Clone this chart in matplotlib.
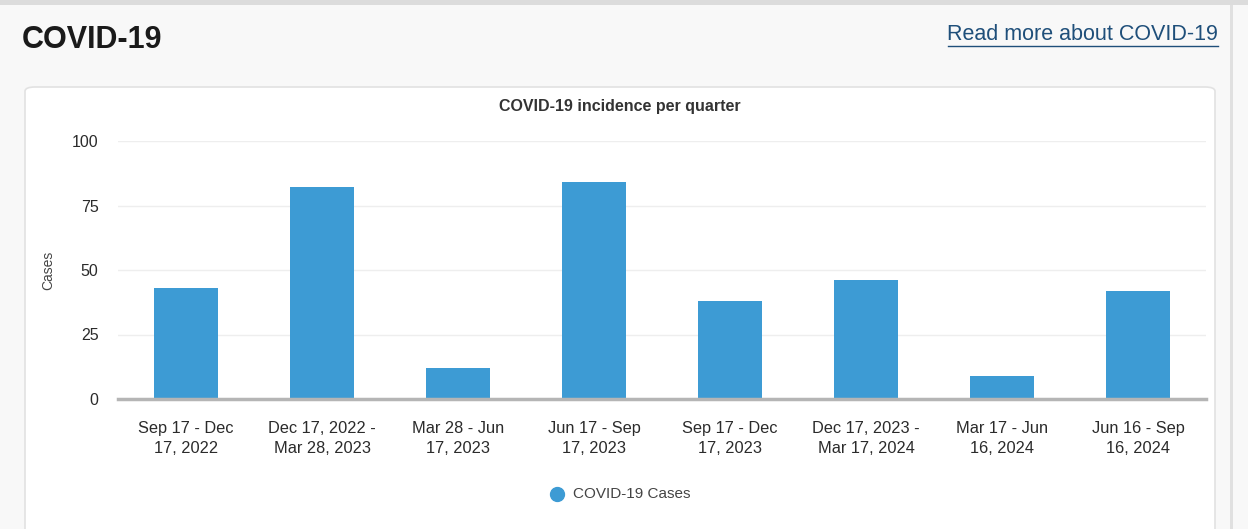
import matplotlib.pyplot as plt
from matplotlib.patches import FancyBboxPatch, Rectangle
from matplotlib.lines import Line2D

plt.rcParams['font.family'] = ['Liberation Sans', 'DejaVu Sans']

# data
quarters = ['Sep 17 - Dec\n17, 2022', 'Dec 17, 2022 -\nMar 28, 2023', 'Mar 28 - Jun\n17, 2023',
            'Jun 17 - Sep\n17, 2023', 'Sep 17 - Dec\n17, 2023', 'Dec 17, 2023 -\nMar 17, 2024',
            'Mar 17 - Jun\n16, 2024', 'Jun 16 - Sep\n16, 2024']
cases = [43, 82, 12, 84, 38, 46, 9, 42]
y_ticks = [0, 25, 50, 75, 100]

W, H = 1248, 529
fig = plt.figure(figsize=(W / 100, H / 100), dpi=100)
fig.patch.set_facecolor('#f8f8f8')

# page chrome: top shadow, card, scrollbar
fig.patches.append(Rectangle((0, 1 - 5 / H), 1, 5 / H, transform=fig.transFigure,
                             facecolor='#dcdcdc', edgecolor='none', zorder=-2))
fig.patches.append(FancyBboxPatch((25 / W, -0.05), 1190 / W, (529 - 87) / H + 0.05,
                                  boxstyle='round,pad=0,rounding_size=0.008',
                                  transform=fig.transFigure, facecolor='white',
                                  edgecolor='#e2e2e2', linewidth=1.2, zorder=-2))
fig.patches.append(Rectangle((1230 / W, 0), 3 / W, 1 - 5 / H, transform=fig.transFigure,
                             facecolor='#e0e0e0', edgecolor='none', zorder=-2))

fig.text(22 / W, 1 - 40 / H, 'COVID-19', fontsize=22, fontweight='bold',
         color='#1a1a1a', va='center', ha='left')
fig.text(1218 / W, 1 - 35 / H, 'Read more about COVID-19', fontsize=15.5,
         color='#1f4f7a', va='center', ha='right')
fig.lines.append(Line2D([948 / W, 1218 / W], [1 - 46 / H, 1 - 46 / H],
                        transform=fig.transFigure, color='#1f4f7a', linewidth=1))

fig.text(620 / W, 1 - 107 / H, 'COVID-19 incidence per quarter', fontsize=11.5,
         fontweight='bold', color='#333333', ha='center', va='center')

ax = fig.add_axes([118 / W, 1 - 399 / H, 1088 / W, 258 / H])
ax.set_zorder(1)
ax.set_facecolor('none')
x = range(len(quarters))
ax.bar(x, cases, width=0.47, color='#3d9bd4', zorder=2)
ax.set_xlim(-0.5, len(quarters) - 0.5)
ax.set_ylim(0, 100)
ax.set_yticks(y_ticks)
ax.set_xticks(list(x))
ax.set_xticklabels(quarters, fontsize=11.8, color='#2b2b2b', linespacing=1.4)
ax.tick_params(axis='y', labelsize=11.5, labelcolor='#2b2b2b', length=0, pad=14)
ax.tick_params(axis='x', length=0, pad=16)
ax.grid(axis='y', color='#eeeeee', linewidth=1, zorder=0)
for s in ['top', 'right', 'left']:
    ax.spines[s].set_visible(False)
ax.spines['bottom'].set_color('#b5b5b5')
ax.spines['bottom'].set_linewidth(2.5)
ax.spines['bottom'].set_zorder(3)
ax.set_ylabel('Cases', fontsize=10, color='#444444', labelpad=12)

# legend
fig.lines.append(Line2D([557 / W], [1 - 494 / H], marker='o', markersize=10,
                        color='#3d9bd4', transform=fig.transFigure))
fig.text(573 / W, 1 - 494 / H, 'COVID-19 Cases', fontsize=11, color='#444444',
         va='center', ha='left')

fig.savefig('out.png', dpi=100)
